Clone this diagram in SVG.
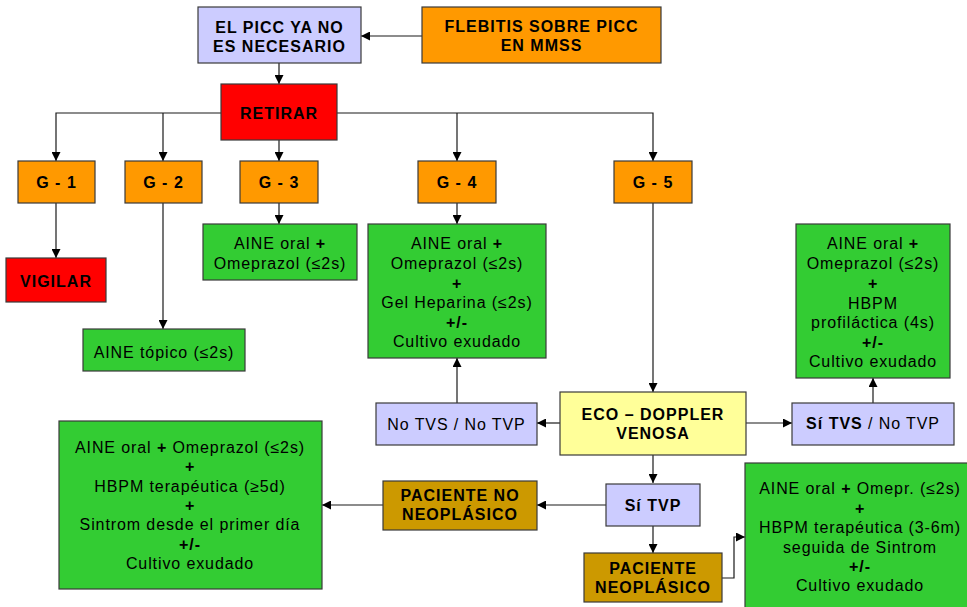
<svg xmlns="http://www.w3.org/2000/svg" width="967" height="607" viewBox="0 0 967 607">
  <defs>
    <marker id="arr" viewBox="0 0 10 10" refX="10" refY="5" markerWidth="9" markerHeight="9" markerUnits="userSpaceOnUse" orient="auto">
      <path d="M0,0 L10,5 L0,10 z" fill="#000"/>
    </marker>
    <style>
      .box { stroke: #3a3a3a; stroke-width: 1.2; }
      .lav { fill: #CCCCFF; }
      .org { fill: #FF9900; }
      .red { fill: #FF0000; }
      .grn { fill: #33CC33; }
      .yel { fill: #FFFF99; }
      .gld { fill: #CC9900; }
      text { font-family: "Liberation Sans", Arial, sans-serif; font-size: 16px; fill: #000; text-anchor: middle; letter-spacing: 0.9px; }
      .b { font-weight: bold; letter-spacing: 1px; }
      .p { font-weight: bold; }
      .con path { fill: none; stroke: #1a1a1a; stroke-width: 1.2; marker-end: url(#arr); }
    </style>
  </defs>

  <!-- connectors -->
  <g id="connectors" class="con">
    <path d="M422,36 H361"/>
    <path d="M279,63 V84"/>
    <path d="M221,113 H56 V161"/>
    <path d="M163,113 V161"/>
    <path d="M279,140 V161"/>
    <path d="M337,113 H653 V161"/>
    <path d="M457,113 V161"/>
    <path d="M56,203 V258"/>
    <path d="M163,203 V329"/>
    <path d="M279,203 V224"/>
    <path d="M457,203 V224"/>
    <path d="M653,203 V392"/>
    <path d="M560,423 H537"/>
    <path d="M457,403 V358"/>
    <path d="M746,423 H792"/>
    <path d="M873,403 V378"/>
    <path d="M653,455 V483"/>
    <path d="M606,505 H537"/>
    <path d="M383,505 H322"/>
    <path d="M653,526 V553"/>
    <path d="M722,578 H734 V537 H745"/>
  </g>

  <g id="picc-no-necesario">
    <rect class="box lav" x="198" y="7" width="163" height="56"/>
    <text class="b" x="279.5" y="33">EL PICC YA NO</text>
    <text class="b" x="279.5" y="52">ES NECESARIO</text>
  </g>

  <g id="flebitis">
    <rect class="box org" x="422" y="7" width="239" height="56"/>
    <text class="b" x="541.5" y="32">FLEBITIS SOBRE PICC</text>
    <text class="b" x="541.5" y="51">EN MMSS</text>
  </g>

  <g id="retirar">
    <rect class="box red" x="221" y="84" width="116" height="56"/>
    <text class="b" x="279" y="119">RETIRAR</text>
  </g>

  <g id="g1">
    <rect class="box org" x="18" y="161" width="77" height="42"/>
    <text class="b" x="56.5" y="188">G - 1</text>
  </g>
  <g id="g2">
    <rect class="box org" x="125" y="161" width="77" height="42"/>
    <text class="b" x="163.5" y="188">G - 2</text>
  </g>
  <g id="g3">
    <rect class="box org" x="240" y="161" width="78" height="42"/>
    <text class="b" x="279" y="188">G - 3</text>
  </g>
  <g id="g4">
    <rect class="box org" x="418" y="161" width="78" height="42"/>
    <text class="b" x="457" y="188">G - 4</text>
  </g>
  <g id="g5">
    <rect class="box org" x="614" y="161" width="78" height="42"/>
    <text class="b" x="653" y="188">G - 5</text>
  </g>

  <g id="vigilar">
    <rect class="box red" x="6" y="258" width="100" height="44"/>
    <text class="b" x="56" y="287">VIGILAR</text>
  </g>

  <g id="aine-topico">
    <rect class="box grn" x="83" y="329" width="162" height="42"/>
    <text x="164" y="358">AINE tópico (≤2s)</text>
  </g>

  <g id="tto-g3">
    <rect class="box grn" x="203" y="224" width="154" height="56"/>
    <text x="280" y="249">AINE oral <tspan class="p">+</tspan></text>
    <text x="280" y="269">Omeprazol (≤2s)</text>
  </g>

  <g id="tto-g4">
    <rect class="box grn" x="368" y="224" width="178" height="134"/>
    <text x="457" y="249">AINE oral <tspan class="p">+</tspan></text>
    <text x="457" y="269">Omeprazol (≤2s)</text>
    <text class="p" x="457" y="289">+</text>
    <text x="457" y="308">Gel Heparina (≤2s)</text>
    <text class="p" x="457" y="328">+/-</text>
    <text x="457" y="347">Cultivo exudado</text>
  </g>

  <g id="tto-tvs">
    <rect class="box grn" x="796" y="224" width="154" height="154"/>
    <text x="873" y="249">AINE oral <tspan class="p">+</tspan></text>
    <text x="873" y="269">Omeprazol (≤2s)</text>
    <text class="p" x="873" y="289">+</text>
    <text x="873" y="309">HBPM</text>
    <text x="873" y="328">profiláctica (4s)</text>
    <text class="p" x="873" y="348">+/-</text>
    <text x="873" y="367">Cultivo exudado</text>
  </g>

  <g id="eco-doppler">
    <rect class="box yel" x="560" y="392" width="186" height="63"/>
    <text class="b" x="653" y="420">ECO – DOPPLER</text>
    <text class="b" x="653" y="439">VENOSA</text>
  </g>

  <g id="no-tvs-no-tvp">
    <rect class="box lav" x="376" y="403" width="161" height="42"/>
    <text x="456.5" y="430">No TVS / No TVP</text>
  </g>

  <g id="si-tvs-no-tvp">
    <rect class="box lav" x="792" y="403" width="162" height="42"/>
    <text x="873" y="429"><tspan class="b">Sí TVS</tspan> / No TVP</text>
  </g>

  <g id="si-tvp">
    <rect class="box lav" x="606" y="484" width="94" height="42"/>
    <text class="b" x="653" y="511">Sí TVP</text>
  </g>

  <g id="paciente-no-neoplasico">
    <rect class="box gld" x="383" y="481" width="154" height="49"/>
    <text class="b" x="460" y="501">PACIENTE NO</text>
    <text class="b" x="460" y="520">NEOPLÁSICO</text>
  </g>

  <g id="tto-no-neoplasico">
    <rect class="box grn" x="59" y="421" width="263" height="168"/>
    <text x="190" y="453">AINE oral <tspan class="p">+</tspan> Omeprazol (≤2s)</text>
    <text class="p" x="190" y="472">+</text>
    <text x="190" y="492">HBPM terapéutica (≥5d)</text>
    <text class="p" x="190" y="511">+</text>
    <text x="190" y="530">Sintrom desde el primer día</text>
    <text class="p" x="190" y="550">+/-</text>
    <text x="190" y="569">Cultivo exudado</text>
  </g>

  <g id="paciente-neoplasico">
    <rect class="box gld" x="584" y="553" width="138" height="49"/>
    <text class="b" x="653" y="574">PACIENTE</text>
    <text class="b" x="653" y="593">NEOPLÁSICO</text>
  </g>

  <g id="tto-neoplasico">
    <rect class="box grn" x="745" y="463" width="232" height="160"/>
    <text x="860" y="494">AINE oral <tspan class="p">+</tspan> Omepr. (≤2s)</text>
    <text class="p" x="860" y="514">+</text>
    <text x="860" y="533">HBPM terapéutica (3-6m)</text>
    <text x="860" y="553">seguida de Sintrom</text>
    <text class="p" x="860" y="572">+/-</text>
    <text x="860" y="591">Cultivo exudado</text>
  </g>
</svg>
